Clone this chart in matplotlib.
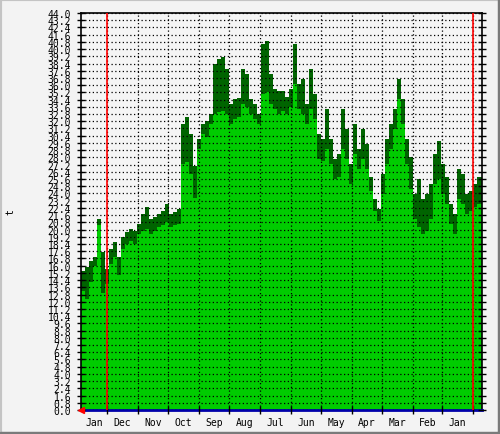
import numpy as np
import matplotlib
matplotlib.use('Agg')
import matplotlib.pyplot as plt
from matplotlib.patches import Rectangle

# Values, one per 4-day bin, left to right
max_vals = [15.4, 15.8, 16.5, 17.0, 21.2, 17.5, 15.6, 17.8, 18.6, 17.0,
            19.2, 19.7, 20.1, 19.8, 20.6, 21.7, 22.5, 21.2, 21.4, 21.7,
            22.1, 22.8, 21.7, 21.9, 22.3, 31.7, 32.5, 30.6, 27.0, 30.0,
            31.7, 32.0, 32.8, 38.3, 38.9, 39.1, 37.8, 33.9, 34.5, 34.6,
            37.8, 37.2, 34.5, 33.9, 32.8, 40.6, 40.9, 37.2, 35.6, 35.4,
            35.4, 34.7, 35.6, 40.6, 36.1, 36.7, 33.9, 37.8, 35.0, 30.6,
            30.0, 33.4, 30.0, 27.8, 28.4, 33.4, 31.1, 27.3, 31.7, 28.9,
            31.1, 29.5, 25.8, 23.4, 22.3, 26.2, 30.0, 31.7, 33.4, 36.7,
            34.5, 30.0, 28.0, 23.9, 25.6, 23.4, 23.9, 25.0, 28.4, 29.8,
            27.3, 25.8, 22.8, 21.7, 26.7, 26.2, 23.9, 24.3, 25.0, 25.8]
avg_vals = [13.2, 12.3, 14.2, 16.0, 20.5, 13.0, 14.0, 16.2, 17.0, 15.0,
            17.8, 18.4, 18.7, 18.4, 19.5, 19.8, 20.1, 19.5, 19.8, 20.3,
            20.5, 20.8, 20.3, 20.5, 20.6, 27.3, 27.5, 26.2, 23.5, 28.9,
            30.6, 30.3, 31.7, 32.8, 33.0, 33.1, 32.8, 31.7, 32.3, 32.5,
            33.9, 33.6, 32.8, 32.3, 31.7, 35.0, 35.2, 33.9, 33.4, 32.8,
            33.1, 32.8, 33.6, 36.1, 33.4, 32.8, 31.7, 33.4, 32.3, 27.8,
            27.6, 28.9, 27.3, 25.6, 25.8, 28.9, 27.8, 25.0, 28.4, 26.7,
            27.8, 26.7, 24.3, 22.1, 20.9, 23.9, 27.3, 28.9, 31.1, 34.5,
            31.7, 27.3, 24.5, 21.2, 20.3, 19.5, 19.8, 21.2, 25.0, 25.6,
            23.9, 22.8, 20.6, 19.5, 23.4, 22.8, 21.7, 22.0, 22.5, 22.8]
bin_days = 4

month_labels = ['Jan', 'Dec', 'Nov', 'Oct', 'Sep', 'Aug', 'Jul',
                'Jun', 'May', 'Apr', 'Mar', 'Feb', 'Jan']
month_days = [31, 30, 31, 30, 31, 31, 30, 31, 30, 31, 29, 31]
first_boundary = 26
x_end = 401

# month boundaries and label positions
boundaries = [first_boundary] + list(first_boundary + np.cumsum(month_days))
label_pos = [(a + b) / 2 for a, b in zip([0] + boundaries[:-1], boundaries)]
year_marks = [boundaries[0], boundaries[-1]]

x = np.arange(len(max_vals)) * bin_days
x = np.append(x, x_end)
mx = np.append(max_vals, max_vals[-1])
av = np.append(avg_vals, avg_vals[-1])

plt.rcParams['font.family'] = 'DejaVu Sans Mono'
plt.rcParams['font.size'] = 7.0

fig = plt.figure(figsize=(5, 4.35), dpi=100)
fig.patch.set_facecolor('#f3f3f3')
# 3D-ish border
fig.patches.append(Rectangle((0, 0), 1, 1, transform=fig.transFigure,
                             fill=False, edgecolor='#c4c4c4', linewidth=3))
fig.patches.append(Rectangle((0, 0), 1, 0.005, transform=fig.transFigure,
                             color='#7a7a7a'))
fig.patches.append(Rectangle((0.996, 0), 0.004, 1, transform=fig.transFigure,
                             color='#7a7a7a'))

ax = fig.add_axes([0.162, 0.0552, 0.802, 0.9126])
ax.set_facecolor('#f5f5f5')

ax.fill_between(x, 0, mx, step='post', color='#006400', linewidth=0)
ax.fill_between(x, 0, av, step='post', color='#00cc00', linewidth=0)

ax.set_xlim(0, x_end)
ax.set_ylim(0, 44)

yt = np.round(np.arange(0, 44.01, 0.8), 1)
ax.set_yticks(yt)
ax.set_yticklabels(['%.1f' % v for v in yt])
ax.tick_params(axis='y', direction='inout', length=6, width=1, pad=4,
               left=True, right=True, colors='black')

ax.set_xticks(boundaries)
ax.set_xticklabels([])
ax.set_xticks(label_pos, minor=True)
ax.set_xticklabels(month_labels, minor=True)
ax.tick_params(axis='x', which='major', direction='inout', length=6, width=1)
ax.tick_params(axis='x', which='minor', length=0, pad=5)

ax.grid(True, which='major', color='black', linestyle=(0, (1, 2)), linewidth=0.9)
ax.set_axisbelow(False)

for xm in year_marks:
    ax.axvline(xm, color='red', linewidth=1.2, zorder=5)

for s in ['left', 'top', 'right']:
    ax.spines[s].set_color('black')
    ax.spines[s].set_linewidth(1.2)
ax.spines['bottom'].set_color('#0000aa')
ax.spines['bottom'].set_linewidth(2)

ax.plot(0, 0, marker='<', color='red', markersize=5, clip_on=False, zorder=6)

fig.text(10 / 500, 1 - 212 / 435, 't', rotation=90, ha='center', va='center')

fig.savefig('out.png', dpi=100, facecolor=fig.get_facecolor())
